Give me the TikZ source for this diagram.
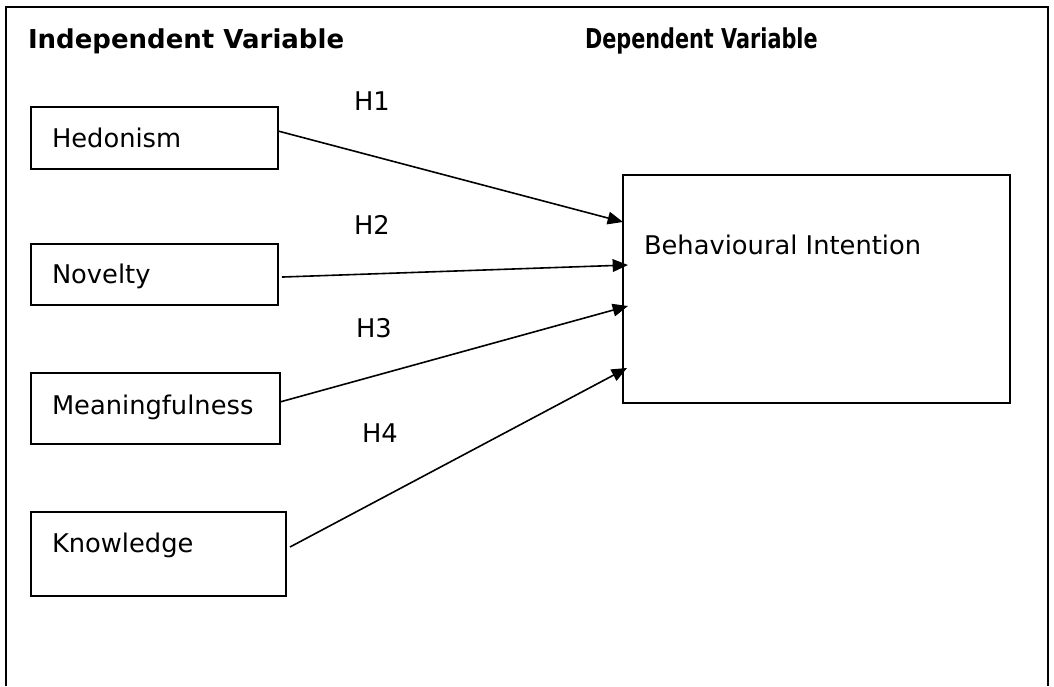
\documentclass[tikz,border=0pt]{standalone}
\usepackage{fontspec}
\setmainfont{DejaVu Sans}
\usetikzlibrary{arrows.meta,calc}
\begin{document}
\begin{tikzpicture}[x=0.75pt,y=-0.75pt,
  varbox/.style={draw,line width=1.4pt,inner sep=0pt,outer sep=0pt},
  txt/.style={inner sep=0pt,outer sep=0pt,anchor=base west,font=\fontsize{19.3}{23}\selectfont},
  head/.style={inner sep=0pt,outer sep=0pt,anchor=base west,font=\fontsize{19.5}{23}\selectfont\bfseries},
  arr/.style={line width=1.2pt,-{Triangle[length=11.5pt,width=9.5pt]}},
  frame/.style={line width=2pt}]
\useasboundingbox (0,0) rectangle (1054,686);
\draw[frame] (6,686) -- (6,7) -- (1048,7) -- (1048,686);
% headings
\node[head] (hind) at (28,48) {Independent Variable};
\node[head] (hdep) at (585,48) {\scalebox{0.8}[1.05]{Dependent Variable}};
% boxes
\node[varbox,minimum width=185.25pt,minimum height=46.5pt] (hed) at (154.5,138) {};
\node[varbox,minimum width=185.25pt,minimum height=45.75pt] (nov) at (154.5,274.5) {};
\node[varbox,minimum width=186.75pt,minimum height=53.25pt] (mea) at (155.5,408.5) {};
\node[varbox,minimum width=191.25pt,minimum height=63pt] (kno) at (158.5,554) {};
\node[varbox,minimum width=290.25pt,minimum height=171pt] (bi) at (816.5,289) {};
% box texts
\node[txt] (thed) at (52,147) {Hedonism};
\node[txt] (tnov) at (52,283) {Novelty};
\node[txt] (tmea) at (52,414) {Meaningfulness};
\node[txt] (tkno) at (52,552) {Knowledge};
\node[txt] (tbi) at (644,254) {Behavioural Intention};
% hypothesis labels
\node[txt] (h1) at (354,110) {H1};
\node[txt] (h2) at (354,234) {H2};
\node[txt] (h3) at (356,337) {H3};
\node[txt] (h4) at (362,442) {H4};
% arrows
\draw[arr] ([yshift=5.25pt]hed.east) -- ([yshift=50.25pt]bi.west);
\draw[arr] ([xshift=3pt,yshift=-1.9pt]nov.east) -- ([xshift=3.75pt,yshift=18pt]bi.west);
\draw[arr] ([yshift=4.9pt]mea.east) -- ([xshift=3.75pt,yshift=-12.75pt]bi.west);
\draw[arr] ([xshift=3pt,yshift=5.25pt]kno.east) -- ([xshift=3pt,yshift=-59.25pt]bi.west);
\end{tikzpicture}
\end{document}
